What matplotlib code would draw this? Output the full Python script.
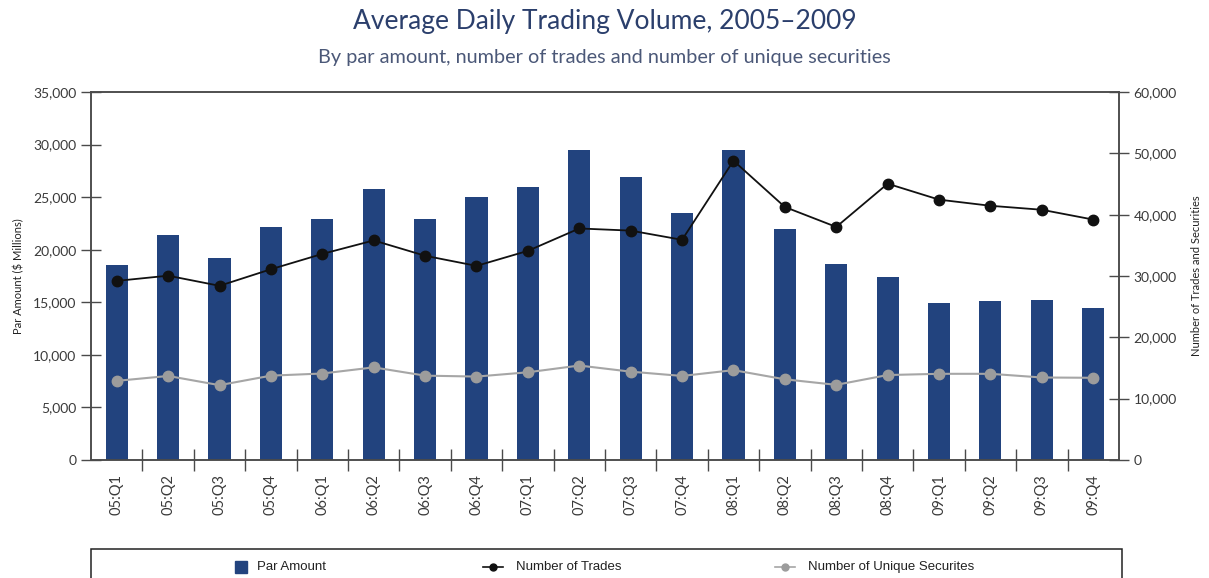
import numpy as np
import matplotlib.pyplot as plt
from matplotlib.lines import Line2D
from matplotlib.patches import Rectangle

plt.rcParams['font.family'] = ['Lato', 'DejaVu Sans']

# Quarterly data
quarters = ['05:Q1', '05:Q2', '05:Q3', '05:Q4', '06:Q1', '06:Q2', '06:Q3', '06:Q4',
            '07:Q1', '07:Q2', '07:Q3', '07:Q4', '08:Q1', '08:Q2', '08:Q3', '08:Q4',
            '09:Q1', '09:Q2', '09:Q3', '09:Q4']
par_amount = [18500, 21400, 19200, 22200, 22900, 25800, 22950, 25050,
              26000, 29500, 26950, 23500, 29500, 22000, 18600, 17400,
              14950, 15150, 15250, 14500]
num_trades = [29200, 30050, 28400, 31100, 33600, 35800, 33300, 31650,
              34100, 37750, 37400, 35900, 48800, 41250, 38000, 45050,
              42450, 41450, 40800, 39200]
num_securities = [12900, 13700, 12200, 13750, 14100, 15100, 13750, 13600,
                  14300, 15400, 14400, 13700, 14650, 13150, 12250, 13850,
                  14050, 14050, 13450, 13400]

navy = '#22437e'
tick_col = '#3a3a3a'
spine_col = '#4a4a4a'

fig = plt.figure(figsize=(12.09, 5.78), dpi=100)
ax = fig.add_axes([0.0753, 0.2042, 0.8502, 0.6366])
ax2 = ax.twinx()

x = np.arange(len(quarters))
ax.bar(x, par_amount, width=0.43, color=navy, zorder=2)
ax.set_xlim(-0.5, len(quarters) - 0.5)
ax.set_ylim(0, 35000)
ax.set_yticks(np.arange(0, 35001, 5000))
ax.set_yticklabels([f'{v:,}' for v in range(0, 35001, 5000)])

# ticks sit on the category boundaries, labels in the middle
ax.set_xticks(np.arange(0.5, len(quarters) - 1, 1.0))
ax.set_xticklabels([])
ax.set_xticks(x, minor=True)
ax.set_xticklabels(quarters, minor=True, rotation=90)
ax.tick_params(axis='x', which='major', direction='inout', length=16, width=1, color=spine_col)
ax.tick_params(axis='x', which='minor', length=0, pad=10, labelsize=10.5, labelcolor=tick_col)
ax.tick_params(axis='y', direction='inout', length=14, width=1, color=spine_col,
               labelsize=10, labelcolor=tick_col)
ax.set_ylabel('Par Amount ($ Millions)', fontsize=8, color='#222222', labelpad=6)

ax2.plot(x, num_trades, color='#111111', lw=1.3, marker='o', ms=7.5, zorder=3)
ax2.plot(x, num_securities, color='#a6a6a6', lw=1.5, marker='o', ms=7.5,
         mfc='#9c9c9c', mec='#9c9c9c', zorder=3)
ax2.set_ylim(0, 60000)
ax2.set_yticks(np.arange(0, 60001, 10000))
ax2.set_yticklabels([f'{v:,}' for v in range(0, 60001, 10000)])
ax2.tick_params(axis='y', direction='inout', length=14, width=1, color=spine_col,
                labelsize=10, labelcolor=tick_col)
ax2.set_ylabel('Number of Trades and Securities', fontsize=8, color='#222222', labelpad=10)

for a in (ax, ax2):
    for s in a.spines.values():
        s.set_color(spine_col)
        s.set_linewidth(1.1)

fig.text(0.5, 0.962, 'Average Daily Trading Volume, 2005\u20132009', ha='center', va='center',
         fontsize=19, color='#2b3f6c')
fig.text(0.5, 0.901, 'By par amount, number of trades and number of unique securities',
         ha='center', va='center', fontsize=14.3, color='#4b5878')

# legend box at the bottom, running off the page
fig.patches.append(Rectangle((0.0753, -0.05), 0.8527, 0.1, transform=fig.transFigure,
                             fill=False, edgecolor='#222222', lw=1.1))
W = 1209.0
ly = 0.019
leg_font = dict(fontsize=9.5, va='center', ha='left', color='#222222',
                family=['Liberation Sans Narrow', 'Liberation Sans', 'DejaVu Sans'])
fig.add_artist(Line2D([241 / W], [ly], ls='none', marker='s', ms=9, color=navy))
fig.text(257 / W, ly, 'Par Amount', **leg_font)
fig.add_artist(Line2D([483 / W, 503 / W], [ly, ly], color='#111111', lw=1.2))
fig.add_artist(Line2D([493 / W], [ly], ls='none', marker='o', ms=5, color='#111111'))
fig.text(516 / W, ly, 'Number of Trades', **leg_font)
fig.add_artist(Line2D([775 / W, 795 / W], [ly, ly], color='#a6a6a6', lw=1.2))
fig.add_artist(Line2D([785 / W], [ly], ls='none', marker='o', ms=5, color='#9c9c9c'))
fig.text(808 / W, ly, 'Number of Unique Securites', **leg_font)

fig.savefig('out.png', dpi=100)
